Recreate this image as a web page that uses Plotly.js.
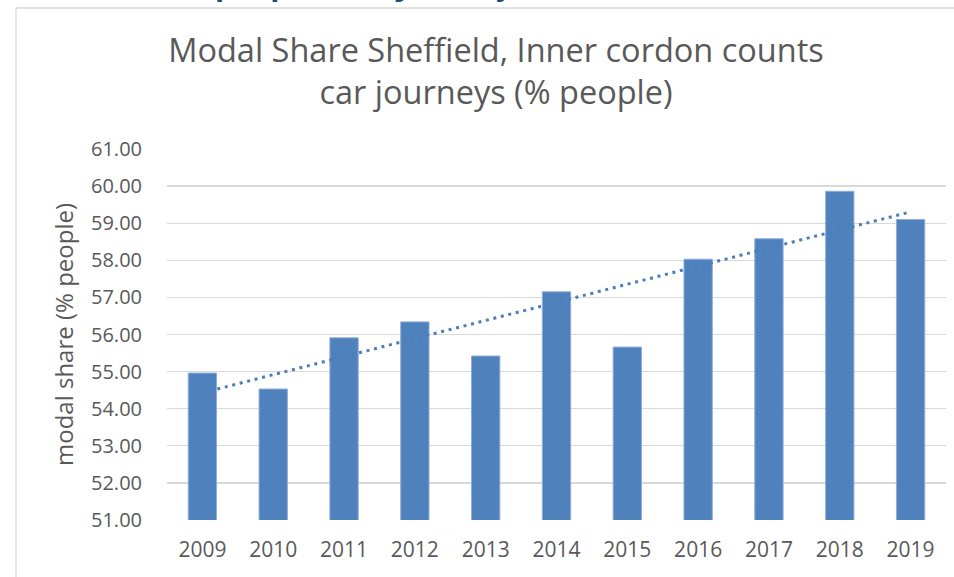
<!DOCTYPE html>
<html>
<head>
<meta charset="utf-8">
<script src="https://cdn.plot.ly/plotly-3.0.1.min.js"></script>
<style>html,body{margin:0;padding:0;background:#fff;}#chart{width:954px;height:577px;}</style>
</head>
<body>
<div id="chart"></div>
<script>
const years = ['2009','2010','2011','2012','2013','2014','2015','2016','2017','2018','2019'];
const modalShare = [54.96, 54.53, 55.91, 56.34, 55.42, 57.15, 55.66, 58.03, 58.58, 59.86, 59.10];
const yTicks = [51,52,53,54,55,56,57,58,59,60,61];
const titleLines = ['Modal Share Sheffield, Inner cordon counts', 'car journeys (% people)'];
const yAxisTitle = 'modal share (% people)';
const headingFragment = '(% people), car journeys';

// linear trendline (least squares) over category index, as in the original chart
const n = modalShare.length;
const xs = modalShare.map((_, i) => i);
const mx = xs.reduce((a, b) => a + b, 0) / n;
const my = modalShare.reduce((a, b) => a + b, 0) / n;
let sxy = 0, sxx = 0;
xs.forEach((x, i) => { sxy += (x - mx) * (modalShare[i] - my); sxx += (x - mx) * (x - mx); });
const slope = sxy / sxx, icpt = my - slope * mx;
const trend = xs.map(x => icpt + slope * x);

const font = '"Open Sans", "Noto Sans", sans-serif';
const grey = '#595959';

const data = [
  {
    type: 'scatter', mode: 'lines', x: years, y: trend,
    line: {color: '#4a7ebb', width: 3, dash: '3px,4.7px'},
    hoverinfo: 'skip', showlegend: false
  },
  {
    type: 'bar', x: years, y: modalShare,
    marker: {color: '#4f81bd', line: {color: '#8eaddb', width: 1}},
    showlegend: false
  }
];

const layout = {
  width: 954, height: 577,
  margin: {l: 167, r: 8, t: 149, b: 57},
  paper_bgcolor: '#ffffff', plot_bgcolor: '#ffffff',
  bargap: 0.6,
  title: {
    text: titleLines.join('<br>'),
    font: {family: font, size: 32.5, color: grey},
    x: 496 / 954, xanchor: 'center', xref: 'container',
    y: 1 - 62 / 577, yanchor: 'top', yref: 'container'
  },
  xaxis: {
    type: 'category', showgrid: false, zeroline: false, showline: false,
    ticks: '', tickfont: {family: font, size: 21, color: grey}, ticklabelstandoff: 15
  },
  yaxis: {
    range: [51, 61], tickvals: yTicks, tickformat: '.2f',
    showgrid: true, gridcolor: '#d9d9d9', gridwidth: 1.3, zeroline: false, showline: false,
    ticks: '', tickfont: {family: font, size: 20, color: grey}, ticklabelstandoff: 24,
    title: {text: yAxisTitle, font: {family: font, size: 24, color: grey}, standoff: 10}
  },
  shapes: [
    {type: 'line', xref: 'paper', yref: 'paper', x0: -151/779, x1: 1.2, y0: 1 + 141/371, y1: 1 + 141/371,
     line: {color: '#d9d9d9', width: 1.3}},
    {type: 'line', xref: 'paper', yref: 'paper', x0: -151/779, x1: -151/779, y0: 1 + 141/371, y1: -0.3,
     line: {color: '#d9d9d9', width: 1.3}}
  ],
  annotations: [
    {text: '<b>' + headingFragment + '</b>', xref: 'paper', yref: 'paper',
     x: 1/779, y: 1 + 143/371, xanchor: 'left', yanchor: 'bottom', showarrow: false,
     font: {family: font, size: 30, color: '#1f497d'}}
  ]
};

Plotly.newPlot('chart', data, layout, {displayModeBar: false, staticPlot: true});
</script>
</body>
</html>
